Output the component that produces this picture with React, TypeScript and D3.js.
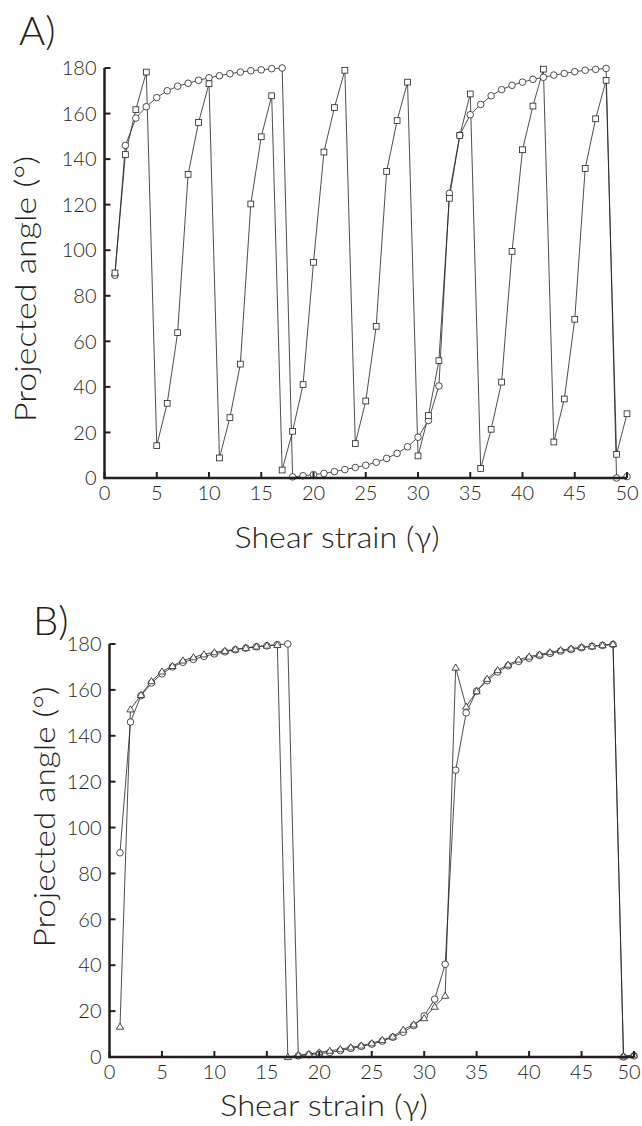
import React from 'react';
import * as d3 from 'd3';

// shear strain steps (x)
const strain = [
  1, 2, 3, 4, 5, 6, 7, 8, 9, 10, 11, 12, 13, 14, 15, 16, 17, 18, 19, 20, 21, 22, 23, 24, 25,
  26, 27, 28, 29, 30, 31, 32, 33, 34, 35, 36, 37, 38, 39, 40, 41, 42, 43, 44, 45, 46, 47, 48, 49, 50,
];

// panel A
const aCircles = [
  89, 146, 158, 163, 167, 170, 172, 173.3, 174.6, 175.7, 176.6, 177.5, 178.2, 178.8, 179.2, 179.7, 180,
  0.5, 1, 1.5, 2, 2.8, 3.7, 4.6, 5.6, 6.9, 8.6, 10.8, 13.7, 17.9, 25.2, 40.4, 125, 150.5, 159.5, 164,
  167.8, 170.5, 172.4, 173.8, 175, 175.9, 176.9, 177.6, 178.4, 179, 179.4, 179.8, 0, 0.6,
];
const aSquares = [
  90, 142, 161.7, 178.2, 14.2, 32.8, 63.8, 133.3, 156.1, 173.1,
  8.8, 26.5, 50, 120.3, 149.8, 167.8, 3.5, 20.5, 41, 94.7,
  143.1, 162.6, 179, 15.1, 33.8, 66.6, 134.6, 156.9, 173.8, 9.7,
  27.4, 51.5, 122.8, 150.4, 168.6, 4.2, 21.4, 42.1, 99.5, 144.1,
  163.3, 179.5, 15.8, 34.7, 69.7, 135.9, 157.7, 174.6, 10.4, 28.2,
];

// panel B
const bCircles = [
  89, 146, 157.5, 163, 167, 170, 172, 173.3, 174.6, 175.7, 176.6, 177.5, 178.2, 178.8, 179.2, 179.7, 180,
  0.5, 1, 1.5, 2, 2.8, 3.7, 4.6, 5.6, 6.9, 8.6, 10.8, 13.7, 17.9, 25.2, 40.4, 125, 150, 159.5, 164,
  167.8, 170.5, 172.4, 173.8, 175, 175.9, 176.9, 177.6, 178.4, 179, 179.4, 179.8, 0, 0.5,
];
const bTriangles = [
  13.2, 151.5, 157.8, 163.8, 168, 170.4, 172.8, 174.2, 175.5, 176.4,
  177, 177.7, 178.3, 178.9, 179.3, 179.6, 0, 0.8, 1.3, 2,
  2.7, 3.4, 4.2, 5, 6, 7.4, 8.9, 11.9, 14.2, 16.9,
  21.9, 26.7, 169.7, 152.7, 159.4, 164.8, 168.6, 171, 173.2, 174.5,
  175.4, 176.4, 177.3, 178, 178.6, 179, 179.5, 180, 0.3, 1,
];

const xTicks = [0, 5, 10, 15, 20, 25, 30, 35, 40, 45, 50];
const yTicks = [0, 20, 40, 60, 80, 100, 120, 140, 160, 180];

const FONT = 'Lato, "DejaVu Sans", sans-serif';
const INK = '#231f20';

type Series = { values: number[]; marker: 'circle' | 'square' | 'triangle' };

const Marker = ({ kind, x, y }: { kind: string; x: number; y: number }) => {
  if (kind === 'circle') return <circle cx={x} cy={y} r={3.3} fill="white" stroke={INK} strokeWidth={0.8} />;
  if (kind === 'square') return <rect x={x - 2.9} y={y - 2.9} width={5.8} height={5.8} fill="white" stroke={INK} strokeWidth={0.8} />;
  const s = 3.6;
  return <path d={`M${x},${y - s}L${x + s},${y + s * 0.7}L${x - s},${y + s * 0.7}Z`} fill="white" stroke={INK} strokeWidth={0.8} />;
};

const Panel = ({ label, left, right, top, bottom, series, labelPos, yLabel, xLabel }: any) => {
  const x = d3.scaleLinear().domain([0, 50]).range([left, right]);
  const y = d3.scaleLinear().domain([0, 180]).range([bottom, top]);
  const line = d3.line<number>().x((_, i) => x(strain[i])).y((d) => y(d));
  return (
    <g fontFamily={FONT} fill={INK}>
      <text x={labelPos[0]} y={labelPos[1]} fontSize={40} fontWeight={300}>{label}</text>
      {series.map((s: Series, k: number) => (
        <path key={'l' + k} d={line(s.values) || ''} fill="none" stroke={INK} strokeWidth={0.8} />
      ))}
      {series.map((s: Series, k: number) =>
        s.values.map((v, i) => <Marker key={k + '-' + i} kind={s.marker} x={x(strain[i])} y={y(v)} />)
      )}
      <line x1={x(0)} x2={x(50)} y1={y(0)} y2={y(0)} stroke={INK} strokeWidth={2.5} />
      <line x1={x(0)} x2={x(0)} y1={y(0) + 1.2} y2={y(180)} stroke={INK} strokeWidth={2.5} />
      {xTicks.map((t) => (
        <g key={'x' + t}>
          <line x1={x(t)} x2={x(t)} y1={y(0)} y2={y(0) - 6} stroke={INK} strokeWidth={2} />
          <text
            x={Math.min(x(t), 629)}
            y={y(0) + 22}
            textAnchor="middle"
            fontSize={20}
            fontWeight={300}
          >
            {t}
          </text>
        </g>
      ))}
      {yTicks.map((t) => (
        <g key={'y' + t}>
          <line x1={x(0)} x2={x(0) + 6} y1={y(t)} y2={y(t)} stroke={INK} strokeWidth={2} />
          <text x={x(0) - 8} y={y(t)} dy="0.36em" textAnchor="end" fontSize={20} fontWeight={300}>{t}</text>
        </g>
      ))}
      <text
        transform={`translate(${yLabel[0]},${yLabel[1]}) rotate(-90)`}
        textAnchor="middle"
        fontSize={30}
        fontWeight={300}
        textLength={yLabel[2]}
        lengthAdjust="spacingAndGlyphs"
      >
        Projected angle (°)
      </text>
      <text
        x={xLabel[0]}
        y={xLabel[1]}
        textAnchor="middle"
        fontSize={30}
        fontWeight={300}
        textLength={xLabel[2]}
        lengthAdjust="spacingAndGlyphs"
      >
        Shear strain (γ)
      </text>
    </g>
  );
};

export default function App() {
  return (
    <svg width={642} height={1126} style={{ position: 'absolute', left: 0, top: 0, background: 'white' }}>
      <Panel
        label="A)"
        left={104.5}
        right={627}
        top={68}
        bottom={478}
        labelPos={[19, 45]}
        yLabel={[36, 289, 266]}
        xLabel={[337, 548, 205]}
        series={[
          { values: aCircles, marker: 'circle' },
          { values: aSquares, marker: 'square' },
        ]}
      />
      <Panel
        label="B)"
        left={109.5}
        right={634}
        top={644}
        bottom={1057}
        labelPos={[33, 635]}
        yLabel={[55, 817, 261]}
        xLabel={[324, 1116, 208]}
        series={[
          { values: bCircles, marker: 'circle' },
          { values: bTriangles, marker: 'triangle' },
        ]}
      />
    </svg>
  );
}
